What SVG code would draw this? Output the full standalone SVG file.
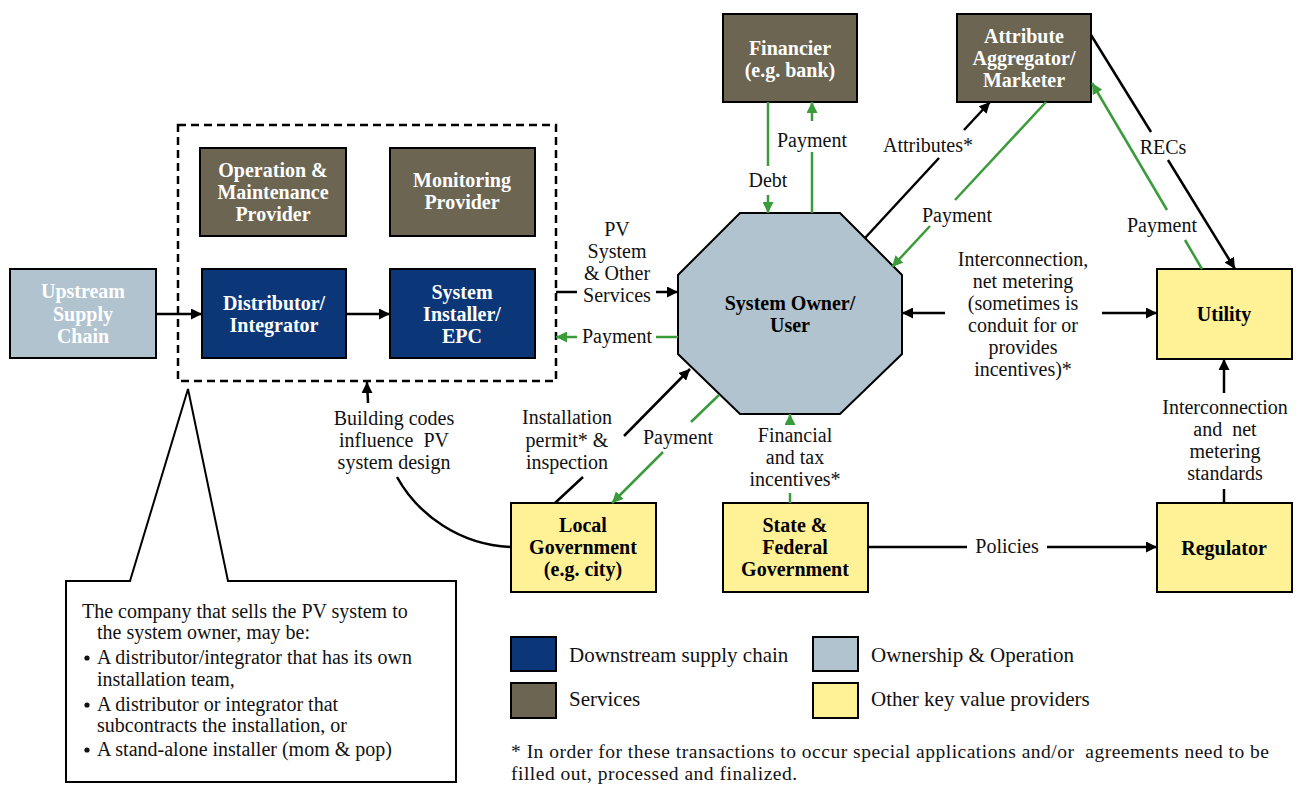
<svg xmlns="http://www.w3.org/2000/svg" width="1299" height="785" viewBox="0 0 1299 785">
<style>
.nd{stroke:#000;stroke-width:2}
.navy{fill:#0b3677}
.brown{fill:#6c6552}
.lblue{fill:#b1c3cf}
.yel{fill:#fff196}
.tw{font-family:"Liberation Serif",serif;font-weight:bold;font-size:20px;fill:#fff;text-anchor:middle}
.tb{font-family:"Liberation Serif",serif;font-weight:bold;font-size:20px;fill:#000;text-anchor:middle}
.lb{font-family:"Liberation Serif",serif;font-size:20px;fill:#111;text-anchor:middle}
.lt{font-family:"Liberation Serif",serif;font-size:20px;fill:#111}
.lg{font-family:"Liberation Serif",serif;font-size:21px;fill:#111}
.ft{font-family:"Liberation Serif",serif;font-size:19.5px;letter-spacing:0.5px;fill:#111}
.pre{white-space:pre}
.k{stroke:#000;stroke-width:2.5;fill:none}
.g{stroke:#3a9b3a;stroke-width:2.5;fill:none}
.ka{stroke:#000;stroke-width:2.5;fill:none;marker-end:url(#ab)}
.ga{stroke:#3a9b3a;stroke-width:2.5;fill:none;marker-end:url(#ag)}
</style>
<defs>
<marker id="ab" viewBox="0 0 10 10" refX="10" refY="5" markerWidth="11" markerHeight="11" markerUnits="userSpaceOnUse" orient="auto"><path d="M0,0 L10,5 L0,10 z" fill="#000"/></marker>
<marker id="ag" viewBox="0 0 10 10" refX="10" refY="5" markerWidth="11" markerHeight="11" markerUnits="userSpaceOnUse" orient="auto"><path d="M0,0 L10,5 L0,10 z" fill="#3a9b3a"/></marker>
</defs>
<rect width="1299" height="785" fill="#fff"/>

<g id="installer-group">
<rect x="178" y="125" width="378" height="256" fill="none" stroke="#000" stroke-width="2.5" stroke-dasharray="8,5"/>
</g>

<g id="upstream">
<rect class="nd lblue" x="10" y="269" width="146" height="89"/>
<text class="tw"><tspan x="83" y="298">Upstream</tspan><tspan x="83" y="321">Supply</tspan><tspan x="83" y="343">Chain</tspan></text>
</g>
<g id="om">
<rect class="nd brown" x="200" y="148" width="146" height="88"/>
<text class="tw"><tspan x="273" y="177">Operation &amp;</tspan><tspan x="273" y="199">Maintenance</tspan><tspan x="273" y="221">Provider</tspan></text>
</g>
<g id="monitoring">
<rect class="nd brown" x="390" y="148" width="145" height="88"/>
<text class="tw"><tspan x="462" y="187">Monitoring</tspan><tspan x="462" y="209">Provider</tspan></text>
</g>
<g id="distributor">
<rect class="nd navy" x="202" y="269" width="144" height="89"/>
<text class="tw"><tspan x="274" y="310">Distributor/</tspan><tspan x="274" y="332">Integrator</tspan></text>
</g>
<g id="installer">
<rect class="nd navy" x="390" y="269" width="145" height="89"/>
<text class="tw"><tspan x="462" y="299">System</tspan><tspan x="462" y="321">Installer/</tspan><tspan x="462" y="343">EPC</tspan></text>
</g>
<g id="financier">
<rect class="nd brown" x="723" y="14" width="134" height="88"/>
<text class="tw"><tspan x="790" y="55">Financier</tspan><tspan x="790" y="77">(e.g. bank)</tspan></text>
</g>
<g id="aggregator">
<rect class="nd brown" x="957" y="14" width="134" height="88"/>
<text class="tw"><tspan x="1024" y="43">Attribute</tspan><tspan x="1024" y="65">Aggregator/</tspan><tspan x="1024" y="87">Marketer</tspan></text>
</g>
<g id="owner">
<polygon class="nd lblue" points="740,213 840,213 902,275 902,354 840,414 740,414 678,354 678,275"/>
<text class="tb"><tspan x="790" y="310">System Owner/</tspan><tspan x="790" y="332">User</tspan></text>
</g>
<g id="utility">
<rect class="nd yel" x="1157" y="269" width="135" height="90"/>
<text class="tb" x="1224" y="321">Utility</text>
</g>
<g id="regulator">
<rect class="nd yel" x="1157" y="503" width="135" height="89"/>
<text class="tb" x="1224" y="555">Regulator</text>
</g>
<g id="localgov">
<rect class="nd yel" x="511" y="503" width="145" height="89"/>
<text class="tb"><tspan x="583" y="532">Local</tspan><tspan x="583" y="554">Government</tspan><tspan x="583" y="576">(e.g. city)</tspan></text>
</g>
<g id="stategov">
<rect class="nd yel" x="723" y="503" width="145" height="89"/>
<text class="tb"><tspan x="795" y="532">State &amp;</tspan><tspan x="795" y="554">Federal</tspan><tspan x="795" y="576">Government</tspan></text>
</g>

<g id="connectors">
<line class="ka" x1="156" y1="314" x2="202" y2="314"/>
<line class="ka" x1="346" y1="314" x2="390" y2="314"/>
<line class="k" x1="556" y1="292" x2="577" y2="292"/>
<line class="ka" x1="656" y1="292" x2="678" y2="292"/>
<line class="g" x1="678" y1="337" x2="656" y2="337"/>
<line class="ga" x1="577" y1="337" x2="556" y2="337"/>
<line class="g" x1="768" y1="102" x2="768" y2="166"/>
<line class="ga" x1="768" y1="195" x2="768" y2="213"/>
<line class="g" x1="812" y1="213" x2="812" y2="152"/>
<line class="ga" x1="812" y1="121" x2="812" y2="102"/>
<line class="k" x1="865" y1="238" x2="939" y2="158"/>
<line class="ka" x1="964" y1="130" x2="990" y2="102"/>
<line class="g" x1="1046" y1="102" x2="955" y2="200"/>
<line class="ga" x1="930" y1="226" x2="892" y2="267"/>
<line class="k" x1="1091" y1="35" x2="1151" y2="132"/>
<line class="ka" x1="1168" y1="160" x2="1235" y2="269"/>
<line class="g" x1="1202" y1="269" x2="1185" y2="240"/>
<line class="ga" x1="1167" y1="210" x2="1092" y2="83"/>
<line class="ka" x1="945" y1="313" x2="902" y2="313"/>
<line class="ka" x1="1102" y1="313" x2="1157" y2="313"/>
<line class="k" x1="1224" y1="503" x2="1224" y2="489"/>
<line class="ka" x1="1224" y1="393" x2="1224" y2="359"/>
<line class="k" x1="868" y1="547" x2="967" y2="547"/>
<line class="ka" x1="1047" y1="547" x2="1157" y2="547"/>
<line class="k" x1="555" y1="503" x2="583" y2="477"/>
<line class="ka" x1="624" y1="436" x2="690" y2="369"/>
<line class="g" x1="719" y1="395" x2="691" y2="422"/>
<line class="ga" x1="663" y1="452" x2="612" y2="503"/>
<line class="g" x1="790" y1="503" x2="790" y2="493"/>
<line class="ga" x1="790" y1="425" x2="790" y2="414"/>
<path class="k" d="M511,547 C460,545 418,515 397,477"/>
<path class="ka" d="M368,403 C368,396 367,390 367,382"/>
</g>

<g id="labels">
<text class="lb" x="812" y="147">Payment</text>
<text class="lb" x="768" y="187">Debt</text>
<text class="lb" x="928" y="152">Attributes*</text>
<text class="lb" x="957" y="222">Payment</text>
<text class="lb" x="1163" y="154">RECs</text>
<text class="lb" x="1162" y="232">Payment</text>
<text class="lb"><tspan x="1023" y="266">Interconnection,</tspan><tspan x="1023" y="288">net metering</tspan><tspan x="1023" y="310">(sometimes is</tspan><tspan x="1023" y="332">conduit for or</tspan><tspan x="1023" y="354">provides</tspan><tspan x="1023" y="376">incentives)*</tspan></text>
<text class="lb pre"><tspan x="1225" y="414">Interconnection</tspan><tspan x="1225" y="436">and  net</tspan><tspan x="1225" y="458">metering</tspan><tspan x="1225" y="480">standards</tspan></text>
<text class="lb" x="1007" y="553">Policies</text>
<text class="lb"><tspan x="617" y="236">PV</tspan><tspan x="617" y="258">System</tspan><tspan x="617" y="280">&amp; Other</tspan><tspan x="617" y="302">Services</tspan></text>
<text class="lb" x="617" y="343">Payment</text>
<text class="lb"><tspan x="567" y="424">Installation</tspan><tspan x="567" y="447">permit* &amp;</tspan><tspan x="567" y="469">inspection</tspan></text>
<text class="lb" x="678" y="444">Payment</text>
<text class="lb"><tspan x="795" y="442">Financial</tspan><tspan x="795" y="464">and tax</tspan><tspan x="795" y="486">incentives*</tspan></text>
<text class="lb pre"><tspan x="394" y="425">Building codes</tspan><tspan x="394" y="447">influence  PV</tspan><tspan x="394" y="469">system design</tspan></text>
</g>

<g id="callout">
<path d="M66,581 L130,581 L188,389 L228,581 L456,581 L456,782 L66,782 Z" fill="#fff" stroke="#000" stroke-width="2"/>
<text class="lt"><tspan x="82" y="618">The company that sells the PV system to</tspan><tspan x="97" y="639">the system owner, may be:</tspan><tspan x="97" y="664">A distributor/integrator that has its own</tspan><tspan x="97" y="686">installation team,</tspan><tspan x="97" y="711">A distributor or integrator that</tspan><tspan x="97" y="732">subcontracts the installation, or</tspan><tspan x="97" y="756">A stand-alone installer (mom &amp; pop)</tspan></text>
<circle cx="87" cy="658" r="2.6" fill="#111"/>
<circle cx="87" cy="705" r="2.6" fill="#111"/>
<circle cx="87" cy="750" r="2.6" fill="#111"/>
</g>

<g id="legend">
<rect class="nd navy" x="511" y="637" width="45" height="34"/>
<text class="lg" x="569" y="662">Downstream supply chain</text>
<rect class="nd lblue" x="813" y="637" width="45" height="34"/>
<text class="lg" x="871" y="662">Ownership &amp; Operation</text>
<rect class="nd brown" x="511" y="683" width="45" height="35"/>
<text class="lg" x="569" y="706">Services</text>
<rect class="nd yel" x="813" y="683" width="45" height="35"/>
<text class="lg" x="871" y="706">Other key value providers</text>
<text class="ft pre"><tspan x="511" y="758">* In order for these transactions to occur special applications and/or  agreements need to be</tspan><tspan x="511" y="780">filled out, processed and finalized.</tspan></text>
</g>
</svg>
